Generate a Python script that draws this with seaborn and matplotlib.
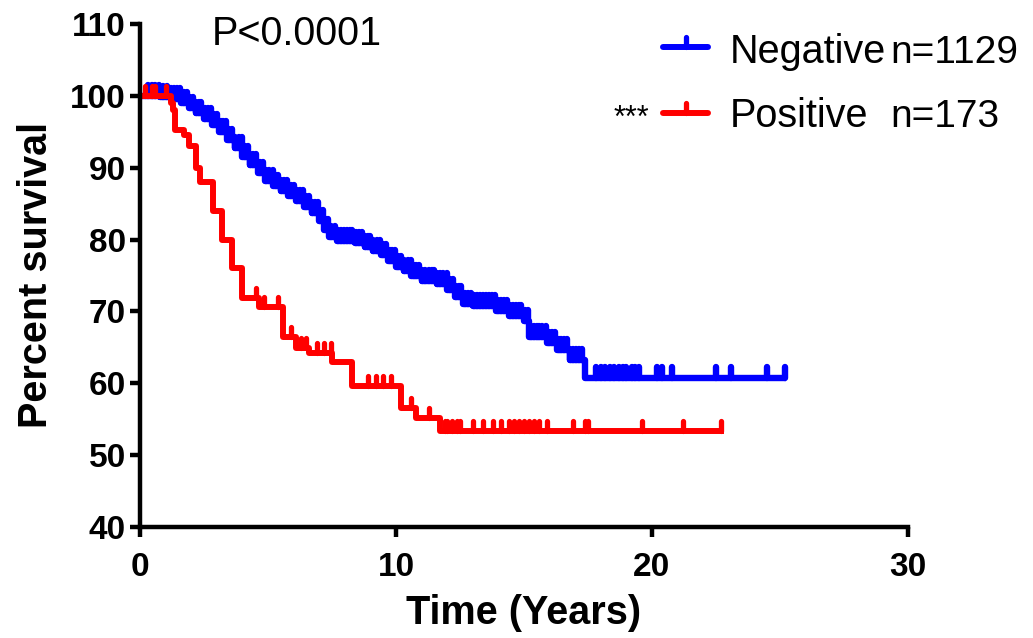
import numpy as np
import matplotlib
matplotlib.use("Agg")
import matplotlib.pyplot as plt
from matplotlib.lines import Line2D
from matplotlib.markers import MarkerStyle
from matplotlib.path import Path
import seaborn as sns

# Kaplan-Meier steps (time in years, survival after the step)
neg_times = [0, 0.8, 1.2, 1.6, 1.9, 2.2, 2.5, 2.8, 3.1, 3.4, 3.7, 4.0, 4.3, 4.6,
             4.9, 5.2, 5.5, 5.8, 6.1, 6.4, 6.7, 7.0, 7.2, 7.4, 7.7, 8.4, 8.8,
             9.1, 9.4, 9.7, 10.0, 10.3, 10.6, 11.0, 11.6, 12.0, 12.3, 12.6,
             13.0, 13.9, 14.4, 15.0, 15.2, 15.9, 16.3, 16.8, 17.4, 25.25]
neg_surv = [100, 99.8, 99.5, 99.0, 98.3, 97.6, 96.8, 95.9, 95.0, 93.8, 92.8,
            91.5, 90.4, 89.2, 88.2, 87.4, 86.7, 86.1, 85.4, 84.6, 83.7, 82.6,
            81.3, 80.3, 79.8, 79.5, 79.0, 78.4, 77.8, 77.0, 76.2, 75.6, 74.9,
            74.3, 73.8, 73.0, 72.0, 71.0, 70.7, 70.0, 69.4, 68.6, 66.4, 65.6,
            64.7, 63.3, 60.8, 60.8]
neg_censor = [0.3, 0.45, 0.6, 0.75, 0.9, 1.05, 1.2, 1.32, 1.45, 1.58, 1.7, 1.82,
              1.95, 2.08, 2.2, 2.3, 2.4, 2.52, 2.65, 2.78, 2.9, 3.02, 3.15,
              3.25, 3.35, 3.48, 3.6, 3.72, 3.85, 3.98, 4.1, 4.2, 4.3, 4.42,
              4.55, 4.68, 4.8, 4.92, 5.05, 5.18, 5.3, 5.4, 5.5, 5.62, 5.75,
              5.88, 6.0, 6.12, 6.25, 6.38, 6.5, 6.6, 6.7, 6.82, 6.95, 7.05,
              7.15, 7.25, 7.35, 7.48, 7.6, 7.72, 7.85, 7.98, 8.1, 8.2, 8.3,
              8.42, 8.55, 8.68, 8.8, 8.9, 9.0, 9.12, 9.25, 9.38, 9.5, 9.62,
              9.75, 9.85, 9.95, 10.08, 10.2, 10.32, 10.45, 10.58, 10.7, 10.8,
              10.9, 11.02, 11.15, 11.28, 11.4, 11.5, 11.6, 11.72, 11.85, 11.98,
              12.1, 12.22, 12.35, 12.45, 12.55, 12.68, 12.8, 12.92, 13.05,
              13.18, 13.3, 13.4, 13.5, 13.62, 13.75, 13.88, 14.0, 14.1, 14.2,
              14.32, 14.45, 14.58, 14.7, 14.8, 14.9, 15.02, 15.15, 15.28, 15.4,
              15.5, 15.6, 15.72, 15.85, 15.98, 16.1, 16.22, 16.35, 16.45,
              16.55, 16.68, 16.8, 16.92, 17.05, 17.15, 17.25,
              17.8, 18.0, 18.15, 18.35, 18.5, 18.7, 18.85, 19.0, 19.2, 19.35,
              19.5, 20.2, 20.4, 20.8, 22.5, 23.1, 24.5, 25.2]

pos_times = [0, 1.2, 1.3, 1.35, 1.7, 1.9, 2.2, 2.35, 2.85, 3.2, 3.6, 4.0, 4.65,
             5.6, 6.1, 6.6, 7.5, 8.3, 10.2, 10.8, 11.7, 22.8]
pos_surv = [100, 99.0, 98.0, 95.2, 94.5, 93.0, 90.0, 88.0, 84.0, 80.0, 76.0,
            71.8, 70.6, 66.4, 64.9, 64.2, 63.0, 59.6, 56.6, 55.2, 53.4, 53.4]
pos_censor = [0.2, 0.45, 0.6, 1.0, 4.55, 4.85, 5.4, 5.9, 6.3, 6.5, 6.9, 7.2,
              7.45, 8.9, 9.2, 9.5, 9.8, 10.6, 11.3, 11.9, 12.0, 12.2, 12.4,
              12.5, 13.0, 13.4, 13.8, 14.1, 14.4, 14.6, 14.8, 15.0, 15.2, 15.4,
              15.6, 15.9, 16.9, 17.4, 17.5, 19.6, 21.2, 22.7]

groups = ["Negative", "Positive"]
counts = ["n=1129", "n=173"]
colors = ["#0000FF", "#FF0000"]


def surv_at(times, surv, t):
    idx = np.searchsorted(times, t, side="right") - 1
    return np.asarray(surv)[idx]


sns.set_style("ticks")
plt.rcParams["font.family"] = ["Liberation Sans", "DejaVu Sans"]
for key in ["text.color", "axes.labelcolor", "xtick.color", "ytick.color",
            "axes.edgecolor"]:
    plt.rcParams[key] = "black"

# tick pointing up from the curve (censored subjects)
up_tick = MarkerStyle(Path([(0, 0), (0, 1)], [Path.MOVETO, Path.LINETO]),
                      capstyle="round")

fig = plt.figure(figsize=(10.33, 6.38), dpi=100)
ax = fig.add_axes([140 / 1033, 111 / 638, 768 / 1033, 503 / 638])

curves = [(neg_times, neg_surv, neg_censor), (pos_times, pos_surv, pos_censor)]
line_w = [4.6, 4.3]
tick_size = [16, 15]
tick_w = [4.6, 3.8]
for i, ((t, s, c), col) in enumerate(zip(curves, colors)):
    sns.lineplot(x=t, y=s, ax=ax, color=col, linewidth=line_w[i],
                 drawstyle="steps-post", estimator=None, sort=False,
                 solid_capstyle="butt", clip_on=False)
    ax.plot(c, surv_at(t, s, c), linestyle="none", marker=up_tick,
            markersize=tick_size[i], markeredgewidth=tick_w[i],
            markeredgecolor=col, color=col, clip_on=False)

ax.set_xlim(0, 30)
ax.set_ylim(40, 110)
ax.set_xticks([0, 10, 20, 30])
ax.set_yticks(range(40, 111, 10))
sns.despine(ax=ax)
for sp in ["left", "bottom"]:
    ax.spines[sp].set_linewidth(3.2)
ax.tick_params(width=3.2, length=7, labelsize=24, pad=3)
ax.tick_params(axis="x", pad=11)
for lab in ax.get_xticklabels() + ax.get_yticklabels():
    lab.set_fontweight("bold")
ax.set_xlabel("Time (Years)", fontsize=28.5, fontweight="bold", labelpad=8)
ax.set_ylabel("Percent survival", fontsize=28.5, fontweight="bold", labelpad=11)

fig.text(212 / 1033, 1 - 45 / 638, "P<0.0001", fontsize=28.5, va="baseline")

# legend drawn by hand, as in the original layout
for i, (name, n, col) in enumerate(zip(groups, counts, colors)):
    yb = [63, 127][i]
    yl = [47, 113][i]
    fig.add_artist(Line2D([663 / 1033, 708 / 1033], [1 - yl / 638] * 2,
                          color=col, linewidth=4.3, transform=fig.transFigure))
    fig.add_artist(Line2D([686 / 1033], [1 - yl / 638], linestyle="none",
                          marker=up_tick, markersize=15, markeredgewidth=3.8,
                          markeredgecolor=col, transform=fig.transFigure))
    fig.text(730 / 1033, 1 - yb / 638, name, fontsize=28.5, va="baseline")
    fig.text(890 / 1033, 1 - yb / 638, n, fontsize=28, va="baseline")

fig.text(614 / 1033, 1 - 127 / 638, "***", fontsize=22, va="baseline")

fig.savefig("out.png", dpi=100)
